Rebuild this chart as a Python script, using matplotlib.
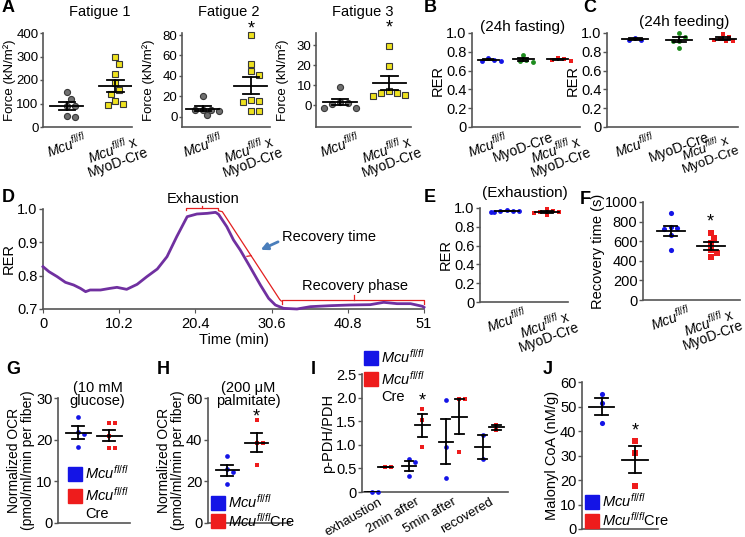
import numpy as np
import matplotlib
matplotlib.use("Agg")
import matplotlib.pyplot as plt
import matplotlib.transforms as mtransforms
from matplotlib.lines import Line2D

plt.rcParams['font.family'] = ['Liberation Sans', 'DejaVu Sans']
plt.rcParams['mathtext.fontset'] = 'custom'
plt.rcParams['mathtext.rm'] = 'Liberation Sans'
plt.rcParams['mathtext.it'] = 'Liberation Sans:italic'
plt.rcParams['font.size'] = 10.5
plt.rcParams['ytick.labelsize'] = 10.5
plt.rcParams['xtick.labelsize'] = 10
plt.rcParams['axes.labelsize'] = 10.5

# ---------------- datos ----------------
# A: fuerza en fatiga (kN/m2)
fat1_ctrl = [150, 121, 90, 90, 43, 47]
fat1_ko = [297, 269, 224, 186, 157, 140, 110, 93, 97]
fat2_ctrl = [20.5, 7, 7, 6, 6.5, 1.3]
fat2_ko = [80, 52, 45, 41, 14, 16, 15, 6, 6]
fat3_ctrl = [9, 1.5, 1, -1.5, -1.5, 0.5]
fat3_ko = [29.7, 19.3, 6.9, 5.8, 4.6, 5.0, 5.8]

# B / C: RER 24h
fast_ctrl = [0.715, 0.705, 0.705, 0.73]
fast_cre = [0.715, 0.695, 0.70, 0.77]
fast_ko = [0.714, 0.707, 0.724, 0.735]
feed_ctrl = [0.95, 0.93, 0.93]
feed_cre = [1.0, 0.96, 0.92, 0.91, 0.84]
feed_ko = [0.99, 0.96, 0.94, 0.93, 0.91, 0.91]

# D: curva RER vs tiempo
t_min = [0, 0.8, 1.9, 3.0, 4.1, 5.0, 5.7, 6.3, 7.7, 9.0, 9.9, 11.2, 12.6, 13.9,
         15.3, 16.6, 17.9, 19.3, 20.6, 22.0, 23.1, 23.5, 24.6, 25.5, 26.4, 27.7,
         29.1, 30.2, 31.1, 32.2, 34.0, 35.8, 38.5, 41.1, 43.8, 45.6, 47.4, 49.2,
         50.8, 51]
rer_curve = [0.827, 0.812, 0.797, 0.780, 0.772, 0.762, 0.752, 0.757, 0.757, 0.762,
             0.765, 0.759, 0.774, 0.797, 0.820, 0.857, 0.917, 0.977, 0.985, 0.987,
             0.990, 0.984, 0.947, 0.907, 0.877, 0.827, 0.772, 0.732, 0.712, 0.702,
             0.700, 0.707, 0.710, 0.712, 0.713, 0.720, 0.716, 0.716, 0.708, 0.705]
d_ticks = [0, 10.2, 20.4, 30.6, 40.8, 51]

# E: RER exhaustion
exh_ctrl = [0.98, 0.97, 0.97, 0.96, 0.96, 0.97]
exh_ko = [0.99, 0.97, 0.96, 0.96, 0.95, 0.93]

# F: recovery time (s)
rec_ctrl = [890, 740, 730, 720, 660, 510]
rec_ko = [685, 630, 580, 510, 475, 440]

# G / H: OCR
glu_ctrl = [25.4, 21.8, 21.4, 18.2]
glu_ko = [24, 24, 21, 18, 18]
pal_ctrl = [32, 26, 24.5, 18.5]
pal_ko = [49.6, 38.4, 38.4, 28]

# I: p-PDH/PDH
pdh_groups = ['exhaustion', '2min after', '5min after', 'recovered']
pdh_ctrl = [[0, 0], [0.69, 0.64, 0.34], [1.94, 0.96, 0.30], [1.2, 0.69]]
pdh_ko = [[0.52, 0.53], [1.75, 1.52, 0.96], [1.96, 1.96, 0.85], [1.31, 1.43]]

# J: malonyl CoA
mal_ctrl = [55.3, 51.6, 43.1]
mal_ko = [36, 31.1, 17.6]

# ---------------- estilo ----------------
BLUE = '#1414E6'
RED = '#EE1C1C'
GREEN = '#1E8C1E'
GREY = '#707070'
YELLOW = '#EEE21E'
SPINE = '#555555'

MCU = r'$\mathit{Mcu}^{\mathit{fl/fl}}$'
MCU_X = MCU + ' x\nMyoD-Cre'

W, H = 745, 537
fig = plt.figure(figsize=(W / 100, H / 100), dpi=100)


def box(l, t, r, b):
    return fig.add_axes([l / W, 1 - b / H, (r - l) / W, (b - t) / H])


def ftext(x, y, s, **kw):
    return fig.text(x / W, 1 - y / H, s, **kw)


def style(ax):
    for s in ['top', 'right']:
        ax.spines[s].set_visible(False)
    for s in ['left', 'bottom']:
        ax.spines[s].set_color(SPINE)
        ax.spines[s].set_linewidth(1.2)
    ax.tick_params(axis='y', length=3, width=1, color=SPINE, pad=1)
    ax.tick_params(axis='x', length=0, pad=2)


def swarm(ax, xc, vals, d):
    # reparte los puntos horizontalmente para que no se pisen (en pixeles)
    vals = np.asarray(vals, float)
    pts = ax.transData.transform(np.column_stack([np.full(len(vals), xc), vals]))
    placed = []
    xs = pts[:, 0].copy()
    for i in np.argsort(-pts[:, 1]):
        for k in [0, 1, -1, 2, -2, 3, -3, 4, -4, 5, -5]:
            x = pts[i, 0] + k * d * 0.65
            if all((x - px) ** 2 + (pts[i, 1] - py) ** 2 >= (1.15 * d) ** 2 for px, py in placed):
                break
        xs[i] = x
        placed.append((x, pts[i, 1]))
    back = ax.transData.inverted().transform(np.column_stack([xs, pts[:, 1]]))
    return back[:, 0]


def group(ax, xc, vals, color, marker, ms, hw=0.34, cw=0.17, edge=None, lw=1.3):
    ppx = ms * 1.39
    xs = swarm(ax, xc, vals, ppx)
    ax.plot(xs, vals, linestyle='none', marker=marker, ms=ms, color=color,
            mec=edge if edge else color, mew=0.8 if edge else 0, zorder=3, clip_on=False)
    m = np.mean(vals)
    se = np.std(vals, ddof=1) / np.sqrt(len(vals))
    ax.plot([xc - hw, xc + hw], [m, m], color='black', lw=lw, zorder=4)
    ax.plot([xc, xc], [m - se, m + se], color='black', lw=lw, zorder=4)
    ax.plot([xc - cw, xc + cw], [m + se, m + se], color='black', lw=lw, zorder=4)
    ax.plot([xc - cw, xc + cw], [m - se, m - se], color='black', lw=lw, zorder=4)


def star(ax, x, y):
    ax.text(x, y, '*', ha='center', va='center', fontsize=13, clip_on=False)


cre_lines = []


def legend(ax, labels, anchor, spacing=0.3, cre_below=False):
    hs = [Line2D([], [], ls='none', marker='s', ms=9.5, color=c) for c in (BLUE, RED)]
    lg = ax.legend(hs, labels, loc='upper left', bbox_to_anchor=anchor, frameon=False,
                   handlelength=0.8, handletextpad=0.3, labelspacing=spacing,
                   borderaxespad=0, borderpad=0, fontsize=10.5)
    if cre_below:
        cre_lines.append(lg.get_texts()[1])


# ---------------- A ----------------
fat_axes = [((43, 33, 132, 127), (0, 400), (-0.49, 1.34), [0, 100, 200, 300, 400], fat1_ctrl, fat1_ko, None),
            ((182, 33, 270, 127), (-10, 82), (-0.43, 1.4), [0, 20, 40, 60, 80], fat2_ctrl, fat2_ko, 86),
            ((316, 33, 411, 127), (-11, 36), (-0.49, 1.44), [0, 10, 20, 30], fat3_ctrl, fat3_ko, 38.5)]
for (bx, yl, xl, yt, c, k, st) in fat_axes:
    ax = box(*bx)
    style(ax)
    ax.set_ylim(*yl)
    ax.set_xlim(*xl)
    ax.set_yticks(yt)
    ax.tick_params(axis='y', labelsize=9.5, length=2.5, pad=0.8)
    ax.set_xticks([0, 1], [MCU, MCU_X], rotation=20, ha='center', linespacing=0.9)
    ax.set_ylabel('Force (kN/m\u00b2)', fontsize=9.5)
    # el borde derecho de la etiqueta queda a ~27 px del eje
    ax.yaxis.set_label_coords(-27 / (bx[2] - bx[0]), 0.5)
    group(ax, 0, c, GREY, 'o', 4.4, edge='#383838')
    group(ax, 1, k, YELLOW, 's', 4.4, edge='#383838')
    if st:
        star(ax, 1, st)
ftext(100, 12, 'Fatigue 1', ha='center', va='center', fontsize=10.5)
ftext(229, 12, 'Fatigue 2', ha='center', va='center', fontsize=10.5)
ftext(363, 12, 'Fatigue 3', ha='center', va='center', fontsize=10.5)

# ---------------- B / C ----------------
for bx, xl, data, title, tpos in [((472, 33, 580, 127), (-0.46, 2.63), (fast_ctrl, fast_cre, fast_ko), '(24h fasting)', (523, 27)),
                                  ((607, 33, 738, 127), (-0.64, 2.34), (feed_ctrl, feed_cre, feed_ko), '(24h feeding)', (684, 22))]:
    ax = box(*bx)
    style(ax)
    ax.set_ylim(0, 1.0)
    ax.set_xlim(*xl)
    ax.set_yticks([0, 0.2, 0.4, 0.6, 0.8, 1.0], ['0', '0.2', '0.4', '0.6', '0.8', '1.0'])
    ax.set_xticks([0, 1, 2], [MCU, 'MyoD-Cre', MCU_X], rotation=20, ha='center', linespacing=0.9)
    ax.set_ylabel('RER', labelpad=1)
    group(ax, 0, data[0], BLUE, 'o', 3.5, hw=0.3, cw=0.15)
    group(ax, 1, data[1], GREEN, 'o', 3.5, hw=0.3, cw=0.15)
    group(ax, 2, data[2], RED, 's', 3.5, hw=0.3, cw=0.15)
    ftext(tpos[0], tpos[1], title, ha='center', va='center', fontsize=11)
    if title == '(24h feeding)':
        # la ultima etiqueta se corre un poco a la izquierda para que quepa
        lab = ax.get_xticklabels()[2]
        lab.set_fontsize(9.5)
        lab.set_transform(lab.get_transform() + mtransforms.ScaledTranslation(-15 / 100, 0, fig.dpi_scale_trans))

# ---------------- D ----------------
ax = box(43, 209, 424, 309)
style(ax)
ax.set_xlim(0, 51)
ax.set_ylim(0.7, 1.0)
ax.set_yticks([0.7, 0.8, 0.9, 1.0], ['0.7', '0.8', '0.9', '1.0'])
ax.set_xticks(d_ticks, ['0', '10.2', '20.4', '30.6', '40.8', '51'], fontsize=10.5)
ax.tick_params(axis='x', length=3, color=SPINE, pad=3)
ax.plot(t_min, rer_curve, color='#7030A0', lw=2, clip_on=False, zorder=3)
ax.set_ylabel('RER', labelpad=1)
ax.set_xlabel('Time (min)', labelpad=1)
br = dict(color='#E32020', lw=0.9, clip_on=False)
ax.plot([19.1, 19.1, 23.4, 23.4], [0.997, 1.003, 1.003, 0.997], **br)
ax.plot([21.25, 21.25], [1.003, 1.009], **br)
ax.plot([23.6, 24.0, 31.7, 31.9], [0.994, 0.992, 0.728, 0.724], **br)
ax.plot([27.85, 27.3], [0.860, 0.858], **br)
ax.plot([32.0, 32.0, 51.0, 51.0], [0.714, 0.727, 0.727, 0.714], **br)
ax.plot([41.6, 41.6], [0.727, 0.741], **br)
ax.text(21.5, 1.03, 'Exhaustion', ha='center', va='center', fontsize=10.5)
ax.text(32.0, 0.917, 'Recovery time', ha='left', va='center', fontsize=10.5)
ax.text(41.8, 0.77, 'Recovery phase', ha='center', va='center', fontsize=10.5)
ax.annotate('', xy=(28.8, 0.874), xytext=(31.8, 0.905),
            arrowprops=dict(arrowstyle='-|>', color='#4A7EBB', lw=2, mutation_scale=10))

# ---------------- E ----------------
ax = box(480, 208, 568, 302)
style(ax)
ax.set_ylim(0, 1.0)
ax.set_xlim(-0.67, 1.53)
ax.set_yticks([0, 0.2, 0.4, 0.6, 0.8, 1.0], ['0', '0.2', '0.4', '0.6', '0.8', '1.0'])
ax.set_xticks([0, 1], [MCU, MCU_X], rotation=20, ha='center', linespacing=0.9)
ax.set_ylabel('RER', labelpad=1)
group(ax, 0, exh_ctrl, BLUE, 'o', 3.5, hw=0.3, cw=0.15)
group(ax, 1, exh_ko, RED, 's', 3.5, hw=0.3, cw=0.15)
ftext(525, 193, '(Exhaustion)', ha='center', va='center', fontsize=11)

# ---------------- F ----------------
ax = box(643, 202, 740, 300)
style(ax)
ax.set_ylim(0, 1000)
ax.set_xlim(-0.69, 1.73)
ax.set_yticks([0, 200, 400, 600, 800, 1000])
ax.set_xticks([0, 1], [MCU, MCU_X], rotation=20, ha='center', linespacing=0.9)
ax.set_ylabel('Recovery time (s)', labelpad=0)
group(ax, 0, rec_ctrl, BLUE, 'o', 3.7, hw=0.35, cw=0.17)
group(ax, 1, rec_ko, RED, 's', 3.7, hw=0.35, cw=0.17)
star(ax, 1, 800)

# ---------------- G ----------------
ax = box(58, 398, 130, 523)
style(ax)
ax.set_ylim(0, 30)
ax.set_xlim(-0.65, 1.67)
ax.set_yticks([0, 10, 20, 30])
ax.set_xticks([])
ax.set_ylabel('Normalized OCR\n(pmol/ml/min per fiber)', labelpad=1, linespacing=1.0, fontsize=10)
group(ax, 0, glu_ctrl, BLUE, 'o', 3.4, hw=0.4, cw=0.2)
group(ax, 1, glu_ko, RED, 's', 3.4, hw=0.4, cw=0.2)
ax.text(0.55, 1.03, '(10 mM\nglucose)', transform=ax.transAxes, ha='center', va='center',
        fontsize=10.5, linespacing=0.95)
legend(ax, [MCU, MCU], (0.15, 0.47), spacing=0.25, cre_below=True)

# ---------------- H ----------------
ax = box(208, 398, 290, 523)
style(ax)
ax.set_ylim(0, 60)
ax.set_xlim(-0.66, 2.14)
ax.set_yticks([0, 20, 40, 60])
ax.set_xticks([])
ax.set_ylabel('Normalized OCR\n(pmol/ml/min per fiber)', labelpad=1, linespacing=1.0, fontsize=10)
group(ax, 0, pal_ctrl, BLUE, 'o', 3.4, hw=0.4, cw=0.2)
group(ax, 1, pal_ko, RED, 's', 3.4, hw=0.4, cw=0.2)
star(ax, 1, 51)
ax.text(0.49, 1.03, '(200 \u03bcM\npalmitate)', transform=ax.transAxes, ha='center', va='center',
        fontsize=10.5, linespacing=0.95)
legend(ax, [MCU, MCU + 'Cre'], (0.05, 0.24), spacing=0.05)

# ---------------- I ----------------
ax = box(362, 374, 508, 492)
style(ax)
ax.set_ylim(0, 2.5)
ax.set_xlim(0.55, 4.5)
ax.set_yticks([0, 0.5, 1.0, 1.5, 2.0, 2.5], ['0', '0.5', '1.0', '1.5', '2.0', '2.5'])
ax.set_xticks(range(1, 5), pdh_groups, rotation=30, ha='right', rotation_mode='anchor', fontsize=9.5)
ax.tick_params(axis='x', pad=3)
ax.set_ylabel('p-PDH/PDH', labelpad=1)
for i in range(4):
    group(ax, i + 1 - 0.18, pdh_ctrl[i], BLUE, 'o', 3.4, hw=0.2, cw=0.12)
    group(ax, i + 1 + 0.18, pdh_ko[i], RED, 's', 3.4, hw=0.2, cw=0.12)
star(ax, 2.18, 1.93)
legend(ax, [MCU, MCU], (0.02, 1.22), spacing=0.25, cre_below=True)

# ---------------- J ----------------
ax = box(582, 382, 658, 529)
style(ax)
ax.set_ylim(0, 60)
ax.set_xlim(-0.59, 1.69)
ax.set_yticks([0, 10, 20, 30, 40, 50, 60])
ax.set_xticks([])
ax.set_ylabel('Malonyl CoA (nM/g)', labelpad=1)
group(ax, 0, mal_ctrl, BLUE, 'o', 3.7, hw=0.38, cw=0.19)
group(ax, 1, mal_ko, RED, 's', 3.7, hw=0.38, cw=0.19)
star(ax, 1, 40)
legend(ax, [MCU, MCU + 'Cre'], (0.05, 0.25), spacing=0.05)

# letras de panel
for s, x, y in [('A', 8, 8), ('B', 430, 8), ('C', 590, 8), ('D', 8, 198), ('E', 430, 198),
                ('F', 585, 200), ('G', 13, 370), ('H', 163, 370), ('I', 313, 370), ('J', 548, 370)]:
    ftext(x, y, s, ha='center', va='center', fontsize=13, fontweight='bold')

# "Cre" en la linea de abajo de la leyenda
fig.canvas.draw()
for t in cre_lines:
    bb = t.get_window_extent()
    fig.text(bb.x0 / W, (bb.y0 - 3) / H, 'Cre', ha='left', va='top', fontsize=10.5)

fig.savefig('out.png', dpi=100)
